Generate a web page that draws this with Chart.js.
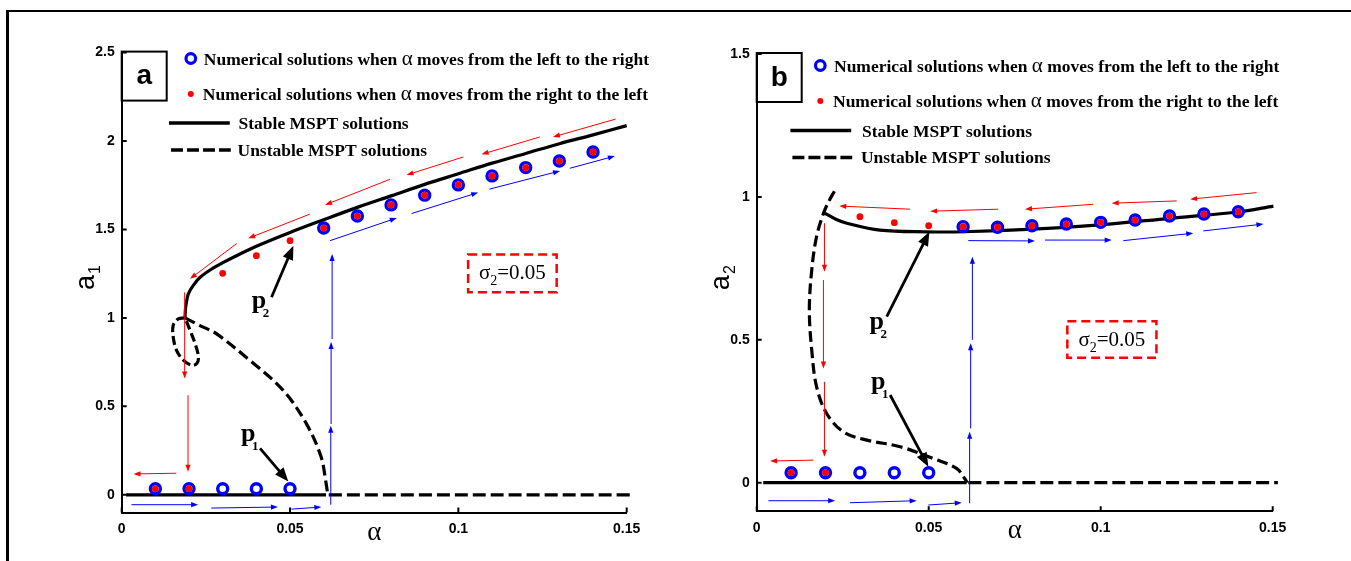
<!DOCTYPE html>
<html>
<head>
<meta charset="utf-8">
<title>MSPT amplitude-response curves</title>
<script src="https://cdn.jsdelivr.net/npm/chart.js@4.4.1/dist/chart.umd.min.js"></script>
<style>
  body { margin: 0; background: #fff; }
  #page { position: relative; width: 1351px; height: 561px; overflow: hidden; }
  #frame { position: absolute; left: 6px; top: 10px; width: 1400px; height: 600px;
           border-top: 2px solid #000; border-left: 3px solid #000; }
  canvas { position: absolute; top: 0; }
</style>
</head>
<body>
<div id="page">
  <div id="frame"></div>
  <canvas id="chart-a" width="680" height="561" style="left:0"></canvas>
  <canvas id="chart-b" width="671" height="561" style="left:680px"></canvas>
</div>
<script>
const RED = 'rgb(255, 0, 0)';
const BLUE = 'rgb(0, 0, 255)';

// shared alpha axis and the alpha values of the numerical runs
const alphaTicks = [0, 0.05, 0.1, 0.15];
const dotAlpha = [0.01, 0.02, 0.03, 0.04, 0.05, 0.06, 0.07, 0.08, 0.09, 0.1, 0.11, 0.12, 0.13, 0.14];

// ---------- panel a : a1 ----------
const a1Ticks = [0, 0.5, 1, 1.5, 2, 2.5];
const a1Forward  = [0.034, 0.034, 0.034, 0.034, 0.034, 1.508, 1.576, 1.639, 1.694, 1.752, 1.803, 1.850, 1.887, 1.938];
const a1Backward = [0.034, 0.034, 1.252, 1.352, 1.437, 1.508, 1.576, 1.639, 1.694, 1.752, 1.803, 1.850, 1.887, 1.938];

const a1StableAlpha = [0.0188, 0.0190, 0.0198, 0.0215, 0.0233, 0.0270, 0.0302, 0.0350, 0.0400, 0.0500, 0.0600, 0.0700, 0.0800, 0.0900, 0.1000, 0.1100, 0.1200, 0.1300, 0.1400, 0.1500];
const a1Stable      = [1.000, 1.060, 1.136, 1.190, 1.230, 1.280, 1.314, 1.360, 1.405, 1.483, 1.555, 1.625, 1.690, 1.755, 1.815, 1.875, 1.930, 1.985, 2.035, 2.087];
const a1UnstableAlpha = [0.0188, 0.0231, 0.0281, 0.0380, 0.0479, 0.0548, 0.0592, 0.0607, 0.0612];
const a1Unstable      = [1.000, 0.958, 0.911, 0.761, 0.592, 0.404, 0.216, 0.066, 0];
const a1LoopAlpha = [0.0188, 0.0168, 0.0153, 0.0153, 0.0163, 0.0183, 0.0208, 0.0223, 0.0228, 0.0218, 0.0203, 0.0188];
const a1Loop      = [1.000, 0.995, 0.958, 0.892, 0.817, 0.761, 0.732, 0.742, 0.779, 0.855, 0.930, 1.000];
const a1LowStableAlpha = [0.0013, 0.0607];
const a1LowUnstableAlpha = [0.0615, 0.1513];

// arrows as [alphaFrom, aFrom, alphaTo, aTo]
const a1RedArrows = [
  [0.0342, 1.421, 0.0203, 1.221], [0.0559, 1.587, 0.0376, 1.450], [0.0797, 1.784, 0.0604, 1.639],
  [0.1015, 1.910, 0.0846, 1.808], [0.1242, 2.023, 0.1069, 1.925], [0.1467, 2.124, 0.1281, 2.023],
  [0.0187, 1.145, 0.0187, 0.657], [0.0197, 0.563, 0.0197, 0.131], [0.0162, 0.122, 0.0035, 0.118]
];
const a1BlueArrows = [
  [0.0619, 1.437, 0.0817, 1.565], [0.0861, 1.590, 0.1059, 1.709], [0.1092, 1.728, 0.1302, 1.831],
  [0.1331, 1.846, 0.1465, 1.915],
  [0.0621, -0.056, 0.0621, 0.390], [0.0622, 0.400, 0.0622, 0.864], [0.0625, 0.880, 0.0625, 1.362],
  [0.0029, -0.056, 0.0227, -0.056], [0.0266, -0.075, 0.0464, -0.069], [0.0504, -0.081, 0.0593, -0.069]
];
const a1Pointers = [[0.0411, 0.263, 0.0495, 0.075], [0.0445, 1.117, 0.0510, 1.408]];
const a1PointLabels = [[0.0376, 0.319, '1'], [0.0408, 1.070, '2']];
const a1SigmaBox = [0.1029, 1.358, 0.1292, 1.145];

// ---------- panel b : a2 ----------
const a2Ticks = [0, 0.5, 1, 1.5];
const a2Forward  = [0.035, 0.035, 0.035, 0.035, 0.035, 0.896, 0.894, 0.899, 0.905, 0.911, 0.919, 0.933, 0.940, 0.948];
const a2Backward = [0.035, 0.035, 0.931, 0.910, 0.899, 0.896, 0.894, 0.899, 0.905, 0.911, 0.919, 0.933, 0.940, 0.948];

const a2StableAlpha = [0.0195, 0.0230, 0.0262, 0.0358, 0.0494, 0.0601, 0.0804, 0.0998, 0.1201, 0.1405, 0.1502];
const a2Stable      = [0.945, 0.922, 0.908, 0.884, 0.878, 0.878, 0.887, 0.902, 0.925, 0.948, 0.968];
const a2UnstableAlpha = [0.0226, 0.0212, 0.0195, 0.0174, 0.0160, 0.0153, 0.0160, 0.0174, 0.0203, 0.0252, 0.0320, 0.0417, 0.0513, 0.0581, 0.0606, 0.0612];
const a2Unstable      = [1.020, 0.990, 0.945, 0.861, 0.744, 0.604, 0.464, 0.336, 0.243, 0.178, 0.149, 0.126, 0.085, 0.050, 0.012, 0];
const a2LowStableAlpha = [0.0019, 0.0610];
const a2LowUnstableAlpha = [0.0615, 0.1515];

const a2RedArrows = [
  [0.0446, 0.957, 0.0240, 0.968], [0.0702, 0.957, 0.0504, 0.950], [0.0978, 0.974, 0.0780, 0.957],
  [0.1221, 0.986, 0.1032, 0.978], [0.1453, 1.015, 0.1260, 0.992],
  [0.0197, 0.908, 0.0197, 0.738], [0.0194, 0.709, 0.0194, 0.400], [0.0197, 0.353, 0.0197, 0.091],
  [0.0165, 0.079, 0.0039, 0.076]
];
const a2BlueArrows = [
  [0.0615, 0.847, 0.0809, 0.846], [0.0838, 0.849, 0.1032, 0.849], [0.1066, 0.847, 0.1269, 0.873],
  [0.1298, 0.881, 0.1473, 0.905],
  [0.0619, -0.072, 0.0619, 0.178], [0.0622, 0.190, 0.0622, 0.488], [0.0627, 0.500, 0.0627, 0.791],
  [0.0034, -0.063, 0.0228, -0.063], [0.0271, -0.070, 0.0465, -0.063], [0.0499, -0.078, 0.0596, -0.070]
];
const a2Pointers = [[0.0388, 0.307, 0.0499, 0.056], [0.0378, 0.581, 0.0502, 0.878]];
const a2PointLabels = [[0.0353, 0.336, '1'], [0.0349, 0.546, '2']];
const a2SigmaBox = [0.0903, 0.565, 0.1162, 0.437];

const legendText = [
  'Numerical solutions when ', 'α', ' moves from the left to the right',
  'Numerical solutions when ', 'α', ' moves from the right to the left',
  'Stable MSPT solutions', 'Unstable MSPT solutions'
];

const zip = (xs, ys) => xs.map((x, i) => ({ x: x, y: ys[i] }));
const flat = (xs, v) => xs.map(x => ({ x: x, y: v }));

const serifBold = px => 'bold ' + px + 'px "Liberation Serif", "Times New Roman", serif';
const serif = px => px + 'px "Liberation Serif", "Times New Roman", serif';
const sans = (px, w) => (w || 'normal') + ' ' + px + 'px "Liberation Sans", Arial, sans-serif';

function drawArrow(ctx, x0, y0, x1, y1, color, width, len, half) {
  const ang = Math.atan2(y1 - y0, x1 - x0);
  const c = Math.cos(ang), s = Math.sin(ang);
  ctx.strokeStyle = color;
  ctx.fillStyle = color;
  ctx.lineWidth = width;
  ctx.setLineDash([]);
  ctx.beginPath();
  ctx.moveTo(x0, y0);
  ctx.lineTo(x1 - len * 0.7 * c, y1 - len * 0.7 * s);
  ctx.stroke();
  ctx.beginPath();
  ctx.moveTo(x1, y1);
  ctx.lineTo(x1 - len * c + half * s, y1 - len * s - half * c);
  ctx.lineTo(x1 - len * c - half * s, y1 - len * s + half * c);
  ctx.closePath();
  ctx.fill();
}

function drawParts(ctx, x, y, parts) {
  ctx.textAlign = 'left';
  ctx.textBaseline = 'alphabetic';
  parts.forEach(p => {
    ctx.font = p[1];
    ctx.fillText(p[0], x, y);
    x += ctx.measureText(p[0]).width;
  });
}

function makeOverlay(panel) {
  return {
    id: 'overlay',
    afterDatasetsDraw(chart) {
      const ctx = chart.ctx;
      const ca = chart.chartArea;
      const xs = chart.scales.x, ys = chart.scales.y;
      const px = v => xs.getPixelForValue(v), py = v => ys.getPixelForValue(v);
      ctx.save();

      // inward tick marks, MATLAB style
      ctx.strokeStyle = '#000';
      ctx.lineWidth = 2;
      ctx.beginPath();
      panel.yTicks.forEach(v => { ctx.moveTo(ca.left, py(v)); ctx.lineTo(ca.left + 5, py(v)); });
      alphaTicks.forEach(v => { ctx.moveTo(px(v), ca.bottom); ctx.lineTo(px(v), ca.bottom - 5); });
      ctx.stroke();

      // flow-direction arrows
      panel.red.forEach(a => drawArrow(ctx, px(a[0]), py(a[1]), px(a[2]), py(a[3]), RED, 1, 7, 2.6));
      panel.blue.forEach(a => drawArrow(ctx, px(a[0]), py(a[1]), px(a[2]), py(a[3]), BLUE, 1, 7, 2.6));
      panel.pointers.forEach(a => drawArrow(ctx, px(a[0]), py(a[1]), px(a[2]), py(a[3]), '#000', 2.8, 14, 5.5));

      // p1 / p2 labels
      ctx.fillStyle = '#000';
      panel.pLabels.forEach(l => {
        ctx.textAlign = 'center';
        ctx.textBaseline = 'middle';
        ctx.font = serifBold(26);
        ctx.fillText('p', px(l[0]), py(l[1]) - 4);
        ctx.font = serifBold(13);
        ctx.fillText(l[2], px(l[0]) + 7, py(l[1]) + 8);
      });

      // sigma box
      const b = panel.sigma;
      const bx0 = px(b[0]), by0 = py(b[1]), bx1 = px(b[2]), by1 = py(b[3]);
      ctx.strokeStyle = RED;
      ctx.lineWidth = 2.5;
      ctx.setLineDash([9, 5]);
      ctx.strokeRect(bx0, by0, bx1 - bx0, by1 - by0);
      ctx.setLineDash([]);
      ctx.fillStyle = '#000';
      ctx.font = serif(21);
      const w1 = ctx.measureText('σ').width, w3 = ctx.measureText('=0.05').width;
      ctx.font = serif(14);
      const w2 = ctx.measureText('2').width;
      let tx = (bx0 + bx1) / 2 - (w1 + w2 + w3) / 2;
      const ty = (by0 + by1) / 2 + 6;
      ctx.textAlign = 'left';
      ctx.textBaseline = 'alphabetic';
      ctx.font = serif(21); ctx.fillText('σ', tx, ty); tx += w1;
      ctx.font = serif(14); ctx.fillText('2', tx, ty + 6); tx += w2;
      ctx.font = serif(21); ctx.fillText('=0.05', tx, ty);

      // panel letter box
      ctx.strokeStyle = '#000';
      ctx.lineWidth = 2;
      ctx.strokeRect(ca.left, ca.top - 1, 45, 49);
      ctx.font = sans(28, 'bold');
      ctx.textAlign = 'center';
      ctx.textBaseline = 'middle';
      ctx.fillText(panel.letter, ca.left + 22.5, ca.top + 24);

      // axis titles
      ctx.font = serif(27);
      ctx.fillText('α', (ca.left + ca.right) / 2, ca.bottom + 20);
      ctx.save();
      ctx.translate(ca.left - 35, (ca.top + ca.bottom) / 2);
      ctx.rotate(-Math.PI / 2);
      ctx.font = sans(27);
      ctx.fillText('a', 0, 0);
      ctx.font = sans(16);
      ctx.fillText(panel.sub, 13, 9);
      ctx.restore();

      // legend
      const L = panel.legend;
      ctx.beginPath();
      ctx.arc(L.markX, L.rows[0], 4.8, 0, Math.PI * 2);
      ctx.strokeStyle = BLUE; ctx.lineWidth = 3.2; ctx.stroke();
      ctx.beginPath();
      ctx.arc(L.markX, L.rows[1], 3, 0, Math.PI * 2);
      ctx.fillStyle = RED; ctx.fill();
      ctx.strokeStyle = '#000'; ctx.lineWidth = 3.5;
      ctx.beginPath(); ctx.moveTo(L.line[0], L.rows[2]); ctx.lineTo(L.line[1], L.rows[2]); ctx.stroke();
      ctx.setLineDash([12, 4]);
      ctx.beginPath(); ctx.moveTo(L.line[0] + 2, L.rows[3]); ctx.lineTo(L.line[1] + 1, L.rows[3]); ctx.stroke();
      ctx.setLineDash([]);
      ctx.fillStyle = '#000';
      drawParts(ctx, L.textX, L.rows[0] + 6, [[legendText[0], serifBold(17.5)], [legendText[1], serif(21)], [legendText[2], serifBold(17.5)]]);
      drawParts(ctx, L.textX - 1, L.rows[1] + 6, [[legendText[3], serifBold(17.5)], [legendText[4], serif(21)], [legendText[5], serifBold(17.5)]]);
      drawParts(ctx, L.lineTextX, L.rows[2] + 6, [[legendText[6], serifBold(17.5)]]);
      drawParts(ctx, L.lineTextX - 1, L.rows[3] + 6, [[legendText[7], serifBold(17.5)]]);

      ctx.restore();
    }
  };
}

function buildChart(canvasId, panel) {
  const curve = { showLine: true, borderColor: '#000', borderWidth: 3.2, pointRadius: 0, tension: 0.35, clip: false };
  const datasets = [
    { label: 'right to left', data: zip(dotAlpha, panel.backward), showLine: false,
      pointRadius: 3.4, pointBorderWidth: 0, pointBackgroundColor: RED },
    { label: 'left to right', data: zip(dotAlpha, panel.forward), showLine: false,
      pointRadius: 5, pointBorderWidth: 3.4, pointBorderColor: BLUE, pointBackgroundColor: '#fff' },
    Object.assign({ label: 'stable upper', data: panel.stable }, curve),
    Object.assign({ label: 'stable lower', data: panel.lowStable }, curve),
    Object.assign({ label: 'unstable lower', data: panel.lowUnstable, borderDash: [13, 5] }, curve),
    Object.assign({ label: 'unstable middle', data: panel.unstable, borderDash: [11, 5] }, curve)
  ];
  if (panel.loop) datasets.push(Object.assign({ label: 'unstable loop', data: panel.loop, borderDash: [9, 4] }, curve));

  const tickFont = { family: '"Liberation Sans", Arial, sans-serif', size: 14, weight: 'bold' };
  return new Chart(document.getElementById(canvasId), {
    type: 'scatter',
    data: { datasets: datasets },
    options: {
      responsive: false,
      animation: false,
      layout: { padding: panel.padding },
      plugins: { legend: { display: false }, tooltip: { enabled: false } },
      scales: {
        x: {
          type: 'linear', min: 0, max: 0.15,
          grid: { display: false, drawTicks: false },
          border: { display: true, color: '#000', width: 2 },
          afterFit: s => { s.height = 40; },
          afterBuildTicks: s => { s.ticks = alphaTicks.map(v => ({ value: v })); },
          ticks: { color: '#000', font: tickFont, padding: 8, maxRotation: 0, autoSkip: false, callback: v => String(v) }
        },
        y: {
          type: 'linear', min: -0.1, max: panel.yMax,
          grid: { display: false, drawTicks: false },
          border: { display: true, color: '#000', width: 2 },
          afterFit: s => { s.width = 60; },
          afterBuildTicks: s => { s.ticks = panel.yTicks.map(v => ({ value: v })); },
          ticks: { color: '#000', font: tickFont, padding: 7, autoSkip: false, callback: v => String(v) }
        }
      }
    },
    plugins: [makeOverlay(panel)]
  });
}

buildChart('chart-a', {
  letter: 'a', sub: '1', yMax: 2.5, yTicks: a1Ticks,
  padding: { left: 61.7, top: 52.6, right: 53.3, bottom: 8.5 },
  forward: a1Forward, backward: a1Backward,
  stable: zip(a1StableAlpha, a1Stable), unstable: zip(a1UnstableAlpha, a1Unstable),
  loop: zip(a1LoopAlpha, a1Loop),
  lowStable: flat(a1LowStableAlpha, 0), lowUnstable: flat(a1LowUnstableAlpha, 0),
  red: a1RedArrows, blue: a1BlueArrows, pointers: a1Pointers, pLabels: a1PointLabels, sigma: a1SigmaBox,
  legend: { markX: 190.8, rows: [58.5, 94, 123, 150], textX: 203.8, line: [169, 229.8], lineTextX: 238.5 }
});

buildChart('chart-b', {
  letter: 'b', sub: '2', yMax: 1.5, yTicks: a2Ticks,
  padding: { left: 16.7, top: 54, right: 78.3, bottom: 9.7 },
  forward: a2Forward, backward: a2Backward,
  stable: zip(a2StableAlpha, a2Stable), unstable: zip(a2UnstableAlpha, a2Unstable),
  loop: null,
  lowStable: flat(a2LowStableAlpha, 0), lowUnstable: flat(a2LowUnstableAlpha, 0),
  red: a2RedArrows, blue: a2BlueArrows, pointers: a2Pointers, pLabels: a2PointLabels, sigma: a2SigmaBox,
  legend: { markX: 140.3, rows: [65.5, 101, 130.6, 157.4], textX: 154, line: [110.4, 171.2], lineTextX: 181.9 }
});
</script>
</body>
</html>
